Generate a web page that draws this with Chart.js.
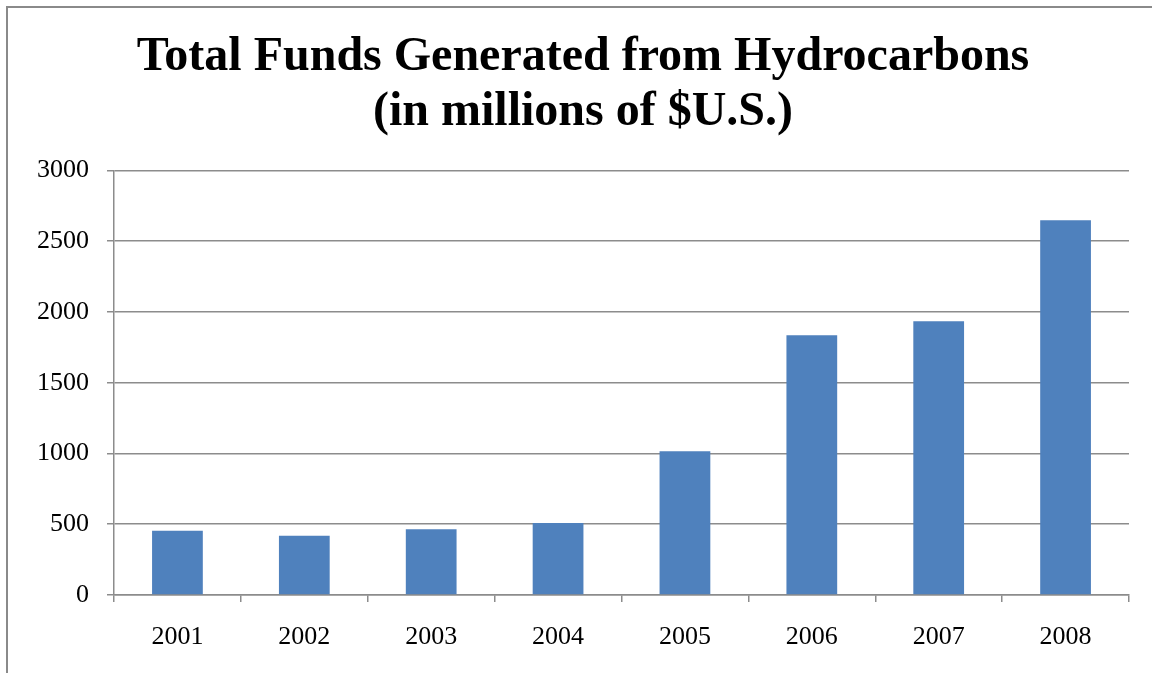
<!DOCTYPE html>
<html>
<head>
<meta charset="utf-8">
<script src="https://cdn.jsdelivr.net/npm/chart.js@4/dist/chart.umd.min.js"></script>
<style>
    html, body { margin: 0; padding: 0; background: #fff; overflow: hidden; }
    #wrap { position: relative; width: 1152px; height: 673px; }
    #frame { position: absolute; left: 6px; top: 6px; width: 1200px; height: 800px; border: 2px solid #8a8a8a; pointer-events: none; }
</style>
</head>
<body>
<div id="wrap">
    <canvas id="fundsCanvas" width="1152" height="673"></canvas>
    <div id="frame"></div>
</div>
<script>
let years = ['2001', '2002', '2003', '2004', '2005', '2006', '2007', '2008'];
let funds = [454, 419, 464, 508, 1016, 1835, 1934, 2647];
let titleLines = ['Total Funds Generated from Hydrocarbons', '(in millions of $U.S.)'];

let serif = "'Liberation Serif', 'Times New Roman', serif";
let gridGrey = '#8c8c8c';

let fundsCanvas = document.getElementById('fundsCanvas');
let fundsChart = new Chart(fundsCanvas, {
    type: 'bar',
    data: {
        labels: years,
        datasets: [{
            label: 'Total funds',
            data: funds,
            backgroundColor: '#4F81BD',
            borderWidth: 0,
            barPercentage: 0.4,
            categoryPercentage: 1
        }]
    },
    options: {
        responsive: false,
        animation: false,
        // left padding keeps the title centred where the original had it
        layout: { padding: { left: 37, right: 23, top: 0, bottom: 0 } },
        plugins: {
            legend: { display: false },
            tooltip: { enabled: false },
            title: {
                display: true,
                text: titleLines,
                color: '#000',
                font: { family: serif, size: 48, weight: 'bold', lineHeight: 1.15 },
                padding: { top: 30, bottom: 30 }
            }
        },
        scales: {
            x: {
                offset: true,
                grid: { drawOnChartArea: false, drawTicks: true, tickLength: 7, color: gridGrey, lineWidth: 1.5 },
                border: { display: true, color: gridGrey, width: 1.5 },
                ticks: { color: '#000', font: { family: serif, size: 26 }, padding: 20, maxRotation: 0 },
                afterFit: function (scale) { scale.height = 78; }
            },
            y: {
                min: 0,
                max: 3000,
                ticks: {
                    stepSize: 500,
                    color: '#000',
                    font: { family: serif, size: 26 },
                    padding: 18,
                    callback: function (value) { return String(value); }
                },
                grid: { color: gridGrey, lineWidth: 1.5, tickLength: 7 },
                border: { display: true, color: gridGrey, width: 1.5 },
                afterFit: function (scale) { scale.width = 77; }
            }
        }
    }
});
</script>
</body>
</html>
